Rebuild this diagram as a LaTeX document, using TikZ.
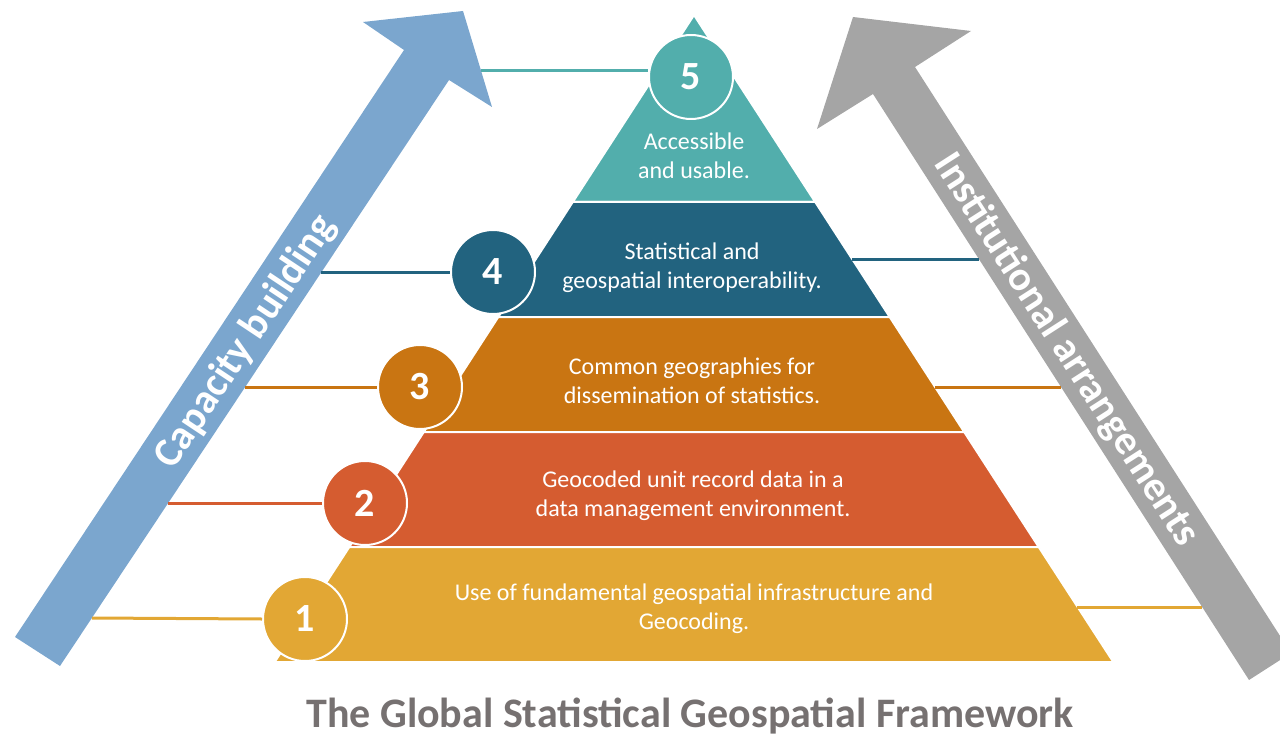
\documentclass[tikz,border=0pt]{standalone}
\usepackage{fontspec}
\setmainfont{Carlito}
\definecolor{cteal}{HTML}{52AEAC}
\definecolor{cdblue}{HTML}{22637F}
\definecolor{cbrown}{HTML}{C97512}
\definecolor{cred}{HTML}{D55C30}
\definecolor{cyell}{HTML}{E2A734}
\definecolor{cblue}{HTML}{7BA6CE}
\definecolor{cgray}{HTML}{A5A5A5}
\definecolor{ctitle}{HTML}{767171}
\begin{document}
\begin{tikzpicture}[x=0.75pt,y=-0.75pt,
  layerbox/.style={draw=white,line width=1.5pt},
  num/.style={circle,draw=white,line width=1.5pt,minimum size=63pt,inner sep=0pt,text=white,font=\bfseries\fontsize{30}{30}\selectfont},
  lbl/.style={text=white,align=center,inner sep=0pt,font=\fontsize{18}{21.75}\selectfont},
  conn/.style={line width=2.25pt},
  arrowtext/.style={text=white,inner sep=0pt,font=\bfseries\fontsize{31}{31}\selectfont}]
\useasboundingbox (0,0) rectangle (1280,734);

% arrows
\fill[cblue] (15,637) -- (404,50) -- (363,22) -- (463,11) -- (492,107) -- (449,80) -- (60,666) -- cycle;
\fill[cgray] (853,17) -- (971,31) -- (915,67) -- (1291,653) -- (1249,680) -- (873,94) -- (817,129) -- cycle;
\node[arrowtext,rotate=56.4] (cap) at (246,342) {Capacity building};
\node[arrowtext,rotate=-57.3] (inst) at (1066,350) {Institutional arrangements};

% arrow-side connector ends
\coordinate (a5) at (481,71);
\coordinate (a4) at (321,272);
\coordinate (a3) at (245,387);
\coordinate (a2) at (168,503);
\coordinate (a1) at (92,618);
\coordinate (p4) at (852,259);
\coordinate (g4) at (979,259);
\coordinate (p3) at (935,387);
\coordinate (g3) at (1061,387);
\coordinate (p1) at (1077,607);
\coordinate (g1) at (1202,607);

% pyramid layers
\fill[cteal,layerbox] (694,15) -- (815.2,202) -- (572.8,202) -- cycle;
\fill[cdblue,layerbox] (572.8,202) -- (815.2,202) -- (889.7,317) -- (498.3,317) -- cycle;
\fill[cbrown,layerbox] (498.3,317) -- (889.7,317) -- (964.2,432) -- (423.8,432) -- cycle;
\fill[cred,layerbox] (423.8,432) -- (964.2,432) -- (1038.7,547) -- (349.3,547) -- cycle;
\fill[cyell,layerbox] (349.3,547) -- (1038.7,547) -- (1113.3,662) -- (274.7,662) -- cycle;

% circles
\node[num,fill=cteal] (n5) at (691,77) {5};
\node[num,fill=cdblue] (n4) at (493,272) {4};
\node[num,fill=cbrown] (n3) at (420,387) {3};
\node[num,fill=cred] (n2) at (365,503) {2};
\node[num,fill=cyell] (n1) at (305,619) {1};

% connectors
\draw[conn,cteal] (a5) -- (a5 -| n5.west);
\draw[conn,cdblue] (a4) -- (n4.west);
\draw[conn,cbrown] (a3) -- (n3.west);
\draw[conn,cred] (a2) -- (n2.west);
\draw[conn,cyell] (a1) -- (n1.west);
\draw[conn,cdblue] (p4) -- (g4);
\draw[conn,cbrown] (p3) -- (g3);
\draw[conn,cyell] (p1) -- (g1);

% labels
\node[lbl] (t5) at (694,155.5) {Accessible\\and usable.};
\node[lbl] (t4) at (692,267.5) {Statistical and\\geospatial interoperability.};
\node[lbl] (t3) at (692,380.5) {Common geographies for\\dissemination of statistics.};
\node[lbl] (t2) at (693,495.5) {Geocoded unit record data in a\\data management environment.};
\node[lbl] (t1) at (694,608.5) {Use of fundamental geospatial infrastructure and\\Geocoding.};

\node[text=ctitle,inner sep=0pt,font=\bfseries\fontsize{31.5}{31.5}\selectfont] (title) at (690,716) {The Global Statistical Geospatial Framework};
\end{tikzpicture}
\end{document}
